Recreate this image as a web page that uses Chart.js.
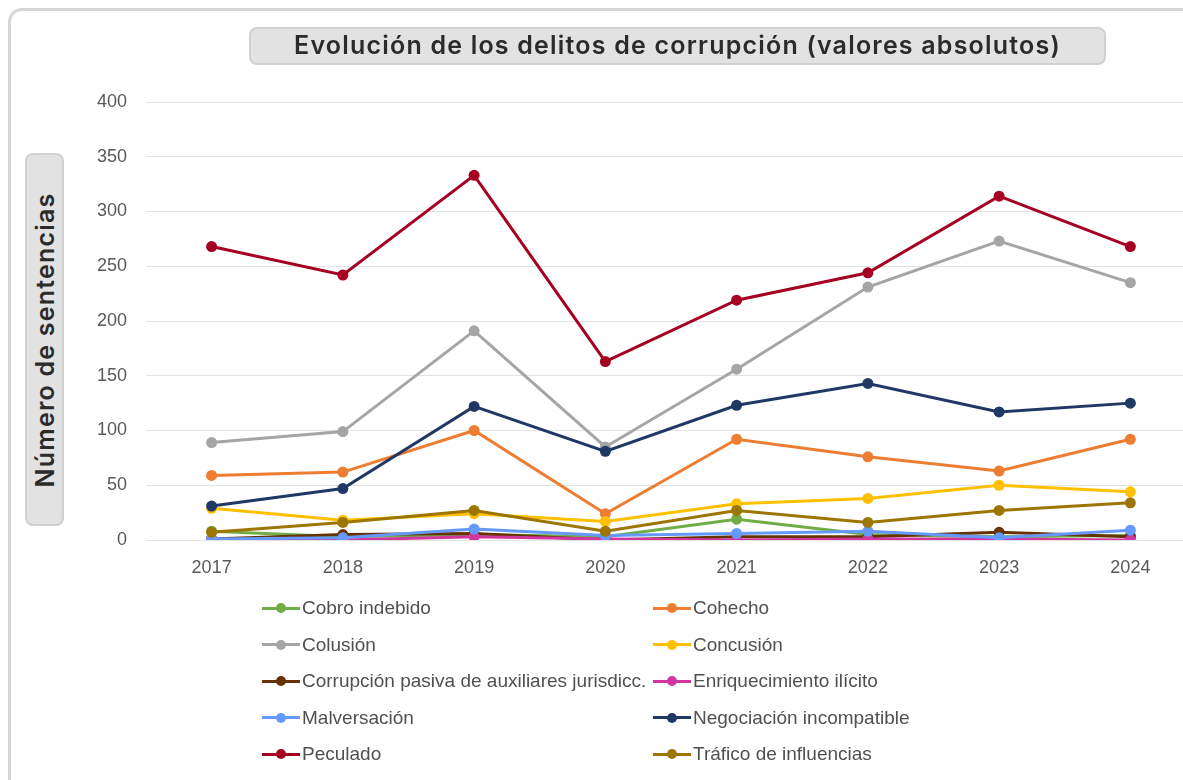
<!DOCTYPE html>
<html>
<head>
<meta charset="utf-8">
<script src="https://cdn.jsdelivr.net/npm/chart.js@4/dist/chart.umd.min.js"></script>
<style>
  html, body { margin: 0; padding: 0; background: #fff; overflow: hidden; width: 1183px; height: 780px; }
  #frame { position: absolute; left: 8px; top: 8px; width: 1200px; height: 800px; border: 3px solid #d6d6d6; border-top-left-radius: 14px; box-sizing: border-box; }
  #title { position: absolute; left: 249px; top: 27px; width: 857px; height: 38px; background: #e2e2e2; border: 2px solid #d0d0d0; border-radius: 8px; box-sizing: border-box;
           font-family: Inter, "Noto Sans", sans-serif; font-weight: 600; font-size: 25px; letter-spacing: 1.2px; color: #2b2b2b; text-align: center; line-height: 33px; }
  #ylabel { position: absolute; left: 25px; top: 153px; width: 39px; height: 373px; background: #e2e2e2; border: 2px solid #d0d0d0; border-radius: 8px; box-sizing: border-box; }
  #ylabel span { position: absolute; left: 50%; top: 50%; transform: translate(-50%, -50%) rotate(-90deg); white-space: nowrap;
           font-family: Inter, "Noto Sans", sans-serif; font-weight: 600; font-size: 25px; letter-spacing: 1.2px; color: #2b2b2b; }
  #myChart { position: absolute; left: 0; top: 0; }
  #legend { position: absolute; left: 262px; top: 590px; display: grid; grid-template-columns: 391px 391px; grid-auto-rows: 36.5px;
            font-family: "Liberation Sans", Arial, sans-serif; font-size: 19px; color: #505050; }
  .item { display: flex; align-items: center; white-space: nowrap; }
  .mark { position: relative; width: 38px; height: 12px; margin-right: 2px; }
  .mark .ln { position: absolute; left: 0; right: 0; top: 4.5px; height: 3px; }
  .mark .dot { position: absolute; left: 14px; top: 1px; width: 10px; height: 10px; border-radius: 50%; }
</style>
</head>
<body>
<div id="frame"></div>
<canvas id="myChart" width="1230" height="600"></canvas>
<div id="title">Evolución de los delitos de corrupción (valores absolutos)</div>
<div id="ylabel"><span>Número de sentencias</span></div>
<div id="legend"></div>

<script>
// years on the x axis
const years = ["2017", "2018", "2019", "2020", "2021", "2022", "2023", "2024"];
const yTicks = [0, 50, 100, 150, 200, 250, 300, 350, 400];

// number of sentences per crime type
const cobroIndebido   = [8, 3, 5, 3, 19, 5, 3, 4];
const cohecho         = [59, 62, 100, 24, 92, 76, 63, 92];
const colusion        = [89, 99, 191, 85, 156, 231, 273, 235];
const concusion       = [29, 18, 24, 17, 33, 38, 50, 44];
const corrupcionPasiva = [1, 5, 6, 0, 3, 3, 7, 3];
const enriquecimiento = [0, 0, 3, 1, 0, 1, 1, 0];
const malversacion    = [1, 2, 10, 4, 6, 8, 2, 9];
const negociacion     = [31, 47, 122, 81, 123, 143, 117, 125];
const peculado        = [268, 242, 333, 163, 219, 244, 314, 268];
const trafico         = [7, 16, 27, 8, 27, 16, 27, 34];

const seriesNames = ["Cobro indebido", "Cohecho", "Colusión", "Concusión",
  "Corrupción pasiva de auxiliares jurisdicc.", "Enriquecimiento ilícito",
  "Malversación", "Negociación incompatible", "Peculado", "Tráfico de influencias"];
const seriesData = [cobroIndebido, cohecho, colusion, concusion, corrupcionPasiva,
  enriquecimiento, malversacion, negociacion, peculado, trafico];
const seriesColors = ["#70AD47", "#ED7D31", "#A5A5A5", "#FFC000", "#663300",
  "#D1379F", "#6699FF", "#203864", "#A50021", "#9C7600"];

function buildDatasets() {
  return seriesNames.map((name, i) => ({
    label: name,
    data: seriesData[i],
    borderColor: seriesColors[i],
    backgroundColor: seriesColors[i],
    borderWidth: 3,
    pointRadius: 5.5,
    pointHoverRadius: 5.5,
    pointBorderWidth: 0,
    tension: 0,
    order: -i   // later series on top, like the original
  }));
}

const ctx = document.getElementById('myChart').getContext('2d');
const myChart = new Chart(ctx, {
  type: 'line',
  data: { labels: years, datasets: buildDatasets() },
  options: {
    responsive: false,
    animation: false,
    layout: { padding: { top: 102, right: 34, left: 0, bottom: 0 } },
    plugins: { legend: { display: false }, tooltip: { enabled: false } },
    scales: {
      x: {
        offset: true,
        grid: { display: false, drawTicks: false },
        border: { display: false },
        ticks: { color: '#595959', font: { family: 'Liberation Sans', size: 18 }, padding: 17, maxRotation: 0 },
        afterFit: function (scale) { scale.height = 60; }
      },
      y: {
        min: 0,
        max: 400,
        afterBuildTicks: function (scale) { scale.ticks = yTicks.map(v => ({ value: v })); },
        grid: { color: '#e3e3e3', lineWidth: 1, drawTicks: false },
        border: { display: false },
        ticks: { color: '#595959', font: { family: 'Liberation Sans', size: 18 }, padding: 19 },
        afterFit: function (scale) { scale.width = 146; }
      }
    }
  }
});

// legend in two columns, built from the chart datasets
function genLegend(chart) {
  let htmlCode = "";
  chart.data.datasets.forEach(ds => {
    htmlCode += `<div class="item"><span class="mark"><span class="ln" style="background:` + ds.borderColor + `"></span>` +
                `<span class="dot" style="background:` + ds.borderColor + `"></span></span>` + ds.label + `</div>`;
  });
  document.getElementById('legend').innerHTML = htmlCode;
}
genLegend(myChart);
</script>
</body>
</html>
